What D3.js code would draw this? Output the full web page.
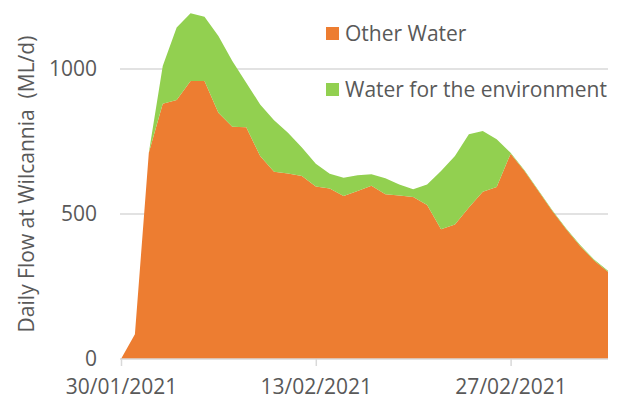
<!DOCTYPE html>
<html>
<head>
<meta charset="utf-8">
<script src="https://cdn.jsdelivr.net/npm/d3@7"></script>
<style>
  body { margin: 0; background: #fff; }
  svg text { font-family: "Open Sans", sans-serif; fill: #595959; }
</style>
</head>
<body>
<div id="chart"></div>
<script>
// daily values, 30/01/2021 .. 06/03/2021
var startDate = "2021-01-30";
var otherWater = [0, 85, 711, 880, 893, 959, 959, 849, 801, 799, 700, 646, 640, 631, 595,
    588, 562, 579, 597, 568, 564, 559, 531, 447, 464, 522, 577, 593, 708, 648,
    579, 510, 447, 390, 340, 301];
var envWater = [0, 0, 0, 130, 250, 233, 221, 265, 227, 154, 178, 177, 140, 98, 78,
    51, 63, 55, 40, 55, 38, 26, 71, 201, 236, 253, 209, 165, 3, 3,
    3, 3, 3, 3, 3, 3];
var seriesNames = ["Other Water", "Water for the environment"];
var yTicks = [0, 500, 1000];
var xTickLabels = ["30/01/2021", "13/02/2021", "27/02/2021"];

function drawChart(div) {
    let width = 622, height = 400;
    let parseTime = d3.timeParse("%Y-%m-%d");
    let parseLabel = d3.timeParse("%d/%m/%Y");
    let t0 = parseTime(startDate);

    let rows = otherWater.map(function (v, i) {
        return { date: d3.timeDay.offset(t0, i), other: v, env: envWater[i] };
    });

    let svg = div.append("svg")
        .attr("width", width)
        .attr("height", height);

    let xScale = d3.scaleTime()
        .domain([rows[0].date, rows[rows.length - 1].date])
        .range([121, 608]);

    let yScale = d3.scaleLinear()
        .domain([0, 1200])
        .range([359, 11]);

    // gridlines
    svg.append("g")
        .selectAll("line")
        .data(yTicks.filter(d => d > 0))
        .enter()
        .append("line")
        .attr("x1", 120)
        .attr("x2", 608)
        .attr("y1", d => yScale(d))
        .attr("y2", d => yScale(d))
        .attr("stroke", "#d9d9d9")
        .attr("stroke-width", 1.5);

    let stack = d3.stack().keys(["other", "env"]);
    let layers = stack(rows);
    let colors = ["#ED7D31", "#92D050"];

    let area = d3.area()
        .x(d => xScale(d.data.date))
        .y0(d => yScale(d[0]))
        .y1(d => yScale(d[1]));

    svg.selectAll("path.layer")
        .data(layers)
        .enter()
        .append("path")
        .attr("class", "layer")
        .attr("d", area)
        .attr("fill", (d, i) => colors[i]);

    // x axis
    let xAxis = d3.axisBottom(xScale)
        .tickValues(xTickLabels.map(parseLabel))
        .tickSize(7)
        .tickFormat(d3.timeFormat("%d/%m/%Y"));
    let gx = svg.append("g")
        .attr("transform", "translate(0," + yScale(0) + ")")
        .call(xAxis);
    gx.select(".domain").attr("stroke", "#d9d9d9").attr("stroke-width", 1.5)
        .attr("d", "M120,0H608");
    gx.selectAll(".tick line").attr("stroke", "#d9d9d9").attr("stroke-width", 1.5);
    gx.selectAll(".tick text")
        .attr("y", 35)
        .attr("dy", null)
        .style("font-size", "21px");

    // y axis labels
    let yAxis = d3.axisLeft(yScale)
        .tickValues(yTicks)
        .tickFormat(d3.format("d"))
        .tickSize(0)
        .tickPadding(0);
    let gy = svg.append("g")
        .attr("transform", "translate(97,0)")
        .call(yAxis);
    gy.select(".domain").remove();
    gy.selectAll(".tick text").style("font-size", "21px");

    svg.append("text")
        .attr("transform", "translate(34,184) rotate(-90)")
        .attr("text-anchor", "middle")
        .style("font-size", "21px")
        .style("white-space", "pre")
        .text("Daily Flow at Wilcannia  (ML/d)");

    // legend
    let legend = svg.selectAll("g.legend")
        .data(seriesNames)
        .enter()
        .append("g")
        .attr("class", "legend")
        .attr("transform", (d, i) => "translate(326," + (27 + i * 56) + ")");
    legend.append("rect")
        .attr("width", 13)
        .attr("height", 13)
        .attr("fill", (d, i) => colors[i]);
    legend.append("text")
        .attr("x", 19)
        .attr("y", 14)
        .style("font-size", "21px")
        .text(d => d);
}

drawChart(d3.select("#chart"));
</script>
</body>
</html>
